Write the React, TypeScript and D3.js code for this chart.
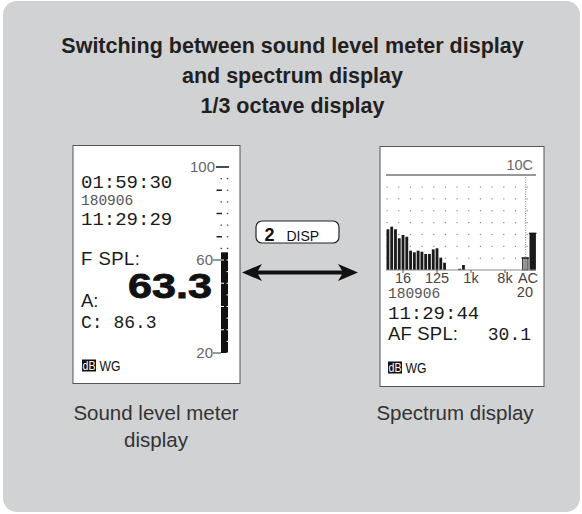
import React from "react";
import * as d3 from "d3";

// ---------- data ----------
const titleLines = [
  "Switching between sound level meter display",
  "and spectrum display",
  "1/3 octave display",
];
const captionLeft = ["Sound level meter", "display"];
const captionRight = ["Spectrum display"];

// Sound level meter display
const meterElapsed = "01:59:30";
const meterDate = "180906";
const meterTime = "11:29:29";
const meterModeLabel = "F SPL:";
const meterValueA = 63.3;
const meterValueC = 86.3;
const meterScaleLabels = [100, 60, 20];
const meterTickValues = [20, 25, 30, 35, 40, 45, 50, 55, 60, 65, 70, 75, 80, 85, 90, 95, 100];

// Spectrum display (1/3 octave bands)
const bands = [
  "6.3", "8", "10", "12.5", "16", "20", "25", "31.5", "40", "50", "63", "80",
  "100", "125", "160", "200", "250", "315", "400", "500", "630", "800", "1k",
  "1.25k", "1.6k", "2k", "2.5k", "3.15k", "4k", "5k", "6.3k", "8k", "10k",
  "12.5k", "16k", "20k",
];
const bandLevels = [
  54.3, 56.5, 54.3, 46.7, 49.5, 48.0, 36.3, 34.9, 36.3, 35.4, 33.5, 33.5,
  37.4, 38.3, 30.4, 26.1, 0, 0, 0, 21.0, 24.2, 0, 0,
  0, 0, 0, 0, 0, 0, 0, 0, 0, 0,
  0, 0, 0,
];
const bandTickLabels = ["16", "125", "1k", "8k"];
const overallBands = ["A", "C"];
const overallLevels = [30.1, 50.9];
const spectrumGridLevels = [30, 40, 50, 60, 70, 80, 90];
const spectrumGridColumns = [0, 1, 2, 3, 4, 5, 6, 7, 8, 9, 10, 11, 12];
const spectrumDate = "180906";
const spectrumTime = "11:29:44";
const spectrumMode = "AF SPL:";
const spectrumValue = 30.1;

const LCD = "'Liberation Mono', 'DejaVu Sans Mono', monospace";
const SANS = "'Liberation Sans', Arial, Helvetica, sans-serif";

export default function App() {
  // meter scale
  const yM = d3.scaleLinear().domain([20, 100]).range([353, 167]);
  // spectrum scales
  const xS = d3.scaleBand<string>().domain(bands).range([386.5, 521.5]).paddingInner(0.25).paddingOuter(0);
  const xO = d3.scaleBand<string>().domain(overallBands).range([522.5, 535.5]).paddingInner(0.25);
  const yS = d3.scaleLinear().domain([20, 100]).range([270, 175]);
  const gx = d3.scaleLinear().domain([0, 12]).range([387, 527]);

  const barTop = yM(meterValueA);

  return (
    <div style={{ position: "absolute", left: 0, top: 0 }}>
      <svg width={582} height={514} viewBox="0 0 582 514" style={{ display: "block" }}>
        <rect x={3} y={1} width={577} height={511} rx={14} fill="#d1d2d4" />

        {/* title */}
        {titleLines.map((t, i) => (
          <text key={i} x={292.5} y={53 + i * 30} textAnchor="middle" fontFamily={SANS} fontWeight="bold" fontSize={21.5} fill="#231f20">
            {t}
          </text>
        ))}

        {/* ---------- left panel ---------- */}
        <rect x={73} y={145.5} width={167} height={238} fill="#fff" stroke="#555" strokeWidth={1} />
        <text x={81} y={188} fontFamily={LCD} fontSize={19} fill="#1a1a1a">{meterElapsed}</text>
        <text x={81} y={205} fontFamily={LCD} fontSize={14.5} fill="#555">{meterDate}</text>
        <text x={81} y={225} fontFamily={LCD} fontSize={19} fill="#1a1a1a">{meterTime}</text>
        <text x={81} y={265} fontFamily={SANS} fontSize={18.5} fill="#1a1a1a" textLength={59} lengthAdjust="spacing">{meterModeLabel}</text>
        <text x={81} y={307} fontFamily={SANS} fontSize={18.5} fill="#1a1a1a">A:</text>
        <text x={128} y={298} fontFamily={SANS} fontWeight="bold" fontSize={35} fill="#111" stroke="#111" strokeWidth={0.8} textLength={84} lengthAdjust="spacingAndGlyphs">
          {meterValueA.toFixed(1)}
        </text>
        <text x={81} y={328} fontFamily={LCD} fontSize={18} fill="#1a1a1a">{"C: " + meterValueC.toFixed(1)}</text>

        {/* meter bar */}
        <rect x={221} y={barTop} width={7} height={yM(20) - barTop} fill="#111" />
        {meterTickValues.map((v) => {
          const y = yM(v);
          if (v <= meterValueA) {
            return (
              <g key={v}>
                {v % 10 === 0 && v > 20 && <line x1={221} x2={224} y1={y} y2={y} stroke="#fff" strokeWidth={1} />}
                <line x1={226.5} x2={228} y1={y} y2={y} stroke="#fff" strokeWidth={1} />
              </g>
            );
          }
          if (v === 100) return <line key={v} x1={216} x2={229} y1={y} y2={y} stroke="#111" strokeWidth={1.5} />;
          return (
            <g key={v}>
              {v % 10 === 0 ? (
                <line x1={216.5} x2={222} y1={y} y2={y} stroke="#222" strokeWidth={1.5} />
              ) : (
                <line x1={220.5} x2={222} y1={y} y2={y} stroke="#444" strokeWidth={1.2} />
              )}
              <line x1={226.8} x2={228.3} y1={y} y2={y} stroke="#444" strokeWidth={1.2} />
            </g>
          );
        })}
        {meterScaleLabels.map((v) => (
          <g key={v}>
            <text x={v === 100 ? 215 : 213} y={yM(v) + 4.5} textAnchor="end" fontFamily={SANS} fontSize={15} fill="#666">{v}</text>
            {v !== 100 && <line x1={213} x2={221} y1={yM(v)} y2={yM(v)} stroke="#333" strokeWidth={1} />}
          </g>
        ))}
        <rect x={82} y={359.5} width={14} height={12} fill="#111" />
        <text x={82.5} y={369.8} fontFamily={SANS} fontSize={12.5} fill="#fff" textLength={13} lengthAdjust="spacingAndGlyphs">dB</text>
        <text x={99.5} y={371} fontFamily={SANS} fontSize={14} fill="#111" textLength={21} lengthAdjust="spacingAndGlyphs">WG</text>

        {/* ---------- right panel ---------- */}
        <rect x={380} y={146.5} width={164} height={240} fill="#fff" stroke="#555" strokeWidth={1} />
        <text x={533} y={170} textAnchor="end" fontFamily={SANS} fontSize={14.5} fill="#666">10C</text>
        <line x1={386} x2={536} y1={yS(100)} y2={yS(100)} stroke="#333" strokeWidth={1} />
        {spectrumGridLevels.map((lv) =>
          spectrumGridColumns.map((c) => (
            <rect key={lv + "-" + c} x={gx(c) - 0.5} y={yS(lv) - 0.5} width={1.2} height={1.2} fill="#888" />
          ))
        )}
        {bands.map((b, i) =>
          bandLevels[i] > 20 ? (
            <rect key={b} x={xS(b)} y={yS(bandLevels[i])} width={xS.bandwidth()} height={yS(20) - yS(bandLevels[i])} fill="#1a1a1a" />
          ) : null
        )}
        {/* A / C overall bars */}
        {overallBands.map((b, i) => (
          <g key={b}>
            <rect
              x={xO(b)}
              y={yS(overallLevels[i])}
              width={xO.bandwidth()}
              height={yS(20) - yS(overallLevels[i])}
              fill={b === "A" ? "#9a9a9a" : "#1a1a1a"}
              stroke="#1a1a1a"
              strokeWidth={0.8}
            />
            <line x1={(xO(b) as number) - 1} x2={(xO(b) as number) + xO.bandwidth() + 1} y1={yS(overallLevels[i])} y2={yS(overallLevels[i])} stroke="#111" strokeWidth={1.2} />
          </g>
        ))}
        <line x1={525.7} x2={525.7} y1={yS(100) + 2} y2={yS(20)} stroke="#777" strokeWidth={1} strokeDasharray="1,1.4" />
        <line x1={386} x2={536} y1={yS(20)} y2={yS(20)} stroke="#888" strokeWidth={1} />
        {bandTickLabels.map((b) => {
          const cx = (xS(b) as number) + xS.bandwidth() / 2;
          return (
            <g key={b}>
              <line x1={cx} x2={cx} y1={yS(20)} y2={yS(20) + 3} stroke="#555" strokeWidth={1} />
              <text x={cx} y={282.5} textAnchor="middle" fontFamily={SANS} fontSize={14.5} fill="#444">{b}</text>
            </g>
          );
        })}
        <text x={528} y={282.5} textAnchor="middle" fontFamily={SANS} fontSize={14.5} fill="#444">AC</text>
        <text x={533} y={297} textAnchor="end" fontFamily={SANS} fontSize={14.5} fill="#444">20</text>
        <text x={388} y={298} fontFamily={LCD} fontSize={14.5} fill="#555">{spectrumDate}</text>
        <text x={388} y={319} fontFamily={LCD} fontSize={19} fill="#1a1a1a">{spectrumTime}</text>
        <text x={388} y={340} fontFamily={SANS} fontSize={18.5} fill="#1a1a1a" textLength={70} lengthAdjust="spacing">{spectrumMode}</text>
        <text x={531} y={340} textAnchor="end" fontFamily={LCD} fontSize={18} fill="#1a1a1a">{spectrumValue.toFixed(1)}</text>
        <rect x={388} y={361.5} width={14} height={12} fill="#111" />
        <text x={388.5} y={371.8} fontFamily={SANS} fontSize={12.5} fill="#fff" textLength={13} lengthAdjust="spacingAndGlyphs">dB</text>
        <text x={405.5} y={373} fontFamily={SANS} fontSize={14} fill="#111" textLength={21} lengthAdjust="spacingAndGlyphs">WG</text>

        {/* ---------- DISP button and arrow ---------- */}
        <rect x={256} y={221} width={83} height={22} rx={6} fill="#fff" stroke="#222" strokeWidth={1.2} />
        <text x={264.5} y={240.5} fontFamily={SANS} fontWeight="bold" fontSize={18} fill="#111">2</text>
        <text x={286.5} y={240.5} fontFamily={SANS} fontSize={14} fill="#111">DISP</text>
        <path
          d="M242,272.5 L262,264 L258,270.5 L342,270.5 L338,264 L358,272.5 L338,281 L342,274.5 L258,274.5 L262,281 Z"
          fill="#111"
        />

        {/* captions */}
        {captionLeft.map((t, i) => (
          <text key={t} x={156} y={420 + i * 27} textAnchor="middle" fontFamily={SANS} fontSize={20.5} fill="#333">{t}</text>
        ))}
        {captionRight.map((t, i) => (
          <text key={t} x={455} y={420 + i * 27} textAnchor="middle" fontFamily={SANS} fontSize={20.5} fill="#333">{t}</text>
        ))}
      </svg>
    </div>
  );
}
